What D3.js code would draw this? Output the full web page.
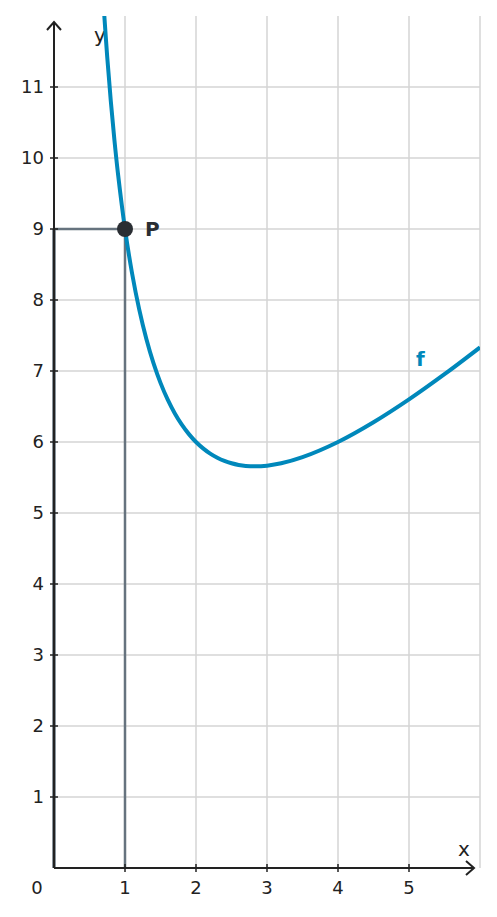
<!DOCTYPE html>
<html><head><meta charset="utf-8">
<script src="https://cdn.jsdelivr.net/npm/d3@7"></script>
<style>body{margin:0;background:#fff}text{font-family:"DejaVu Sans",sans-serif}</style>
</head><body><svg id="c" width="497" height="917"></svg>
<script>
const xTicks=[1,2,3,4,5];
const yTicks=[1,2,3,4,5,6,7,8,9,10,11];
const gridX=[1,2,3,4,5,6];
const curveX=[0.7,0.75,0.8,0.85,0.9,1,1.1,1.2,1.3,1.4,1.5,1.6,1.7,1.8,1.9,2,2.1,2.2,2.3,2.4,2.5,2.6,2.7,2.83,3,3.2,3.5,4,4.5,5,5.5,6];
const curveY=[12.129,11.417,10.8,10.262,9.789,9,8.373,7.867,7.454,7.114,6.833,6.6,6.406,6.244,6.111,6,5.910,5.836,5.778,5.733,5.7,5.677,5.663,5.657,5.667,5.7,5.786,6,6.278,6.6,6.955,7.333];
const pointP={x:1,y:9};

const svg=d3.select("#c");
const x=d3.scaleLinear().domain([0,6]).range([54,480]);
const y=d3.scaleLinear().domain([0,12]).range([868,16]);
const g=svg.append("g");
g.selectAll(".gx").data(gridX).join("line").attr("x1",d=>x(d)).attr("x2",d=>x(d)).attr("y1",y(0)).attr("y2",y(12)).attr("stroke","#d4d4d4").attr("stroke-width",1.5);
g.selectAll(".gy").data(yTicks).join("line").attr("x1",x(0)).attr("x2",x(6)).attr("y1",d=>y(d)).attr("y2",d=>y(d)).attr("stroke","#d4d4d4").attr("stroke-width",1.5);
g.append("path").attr("d",`M${x(0)},${y(pointP.y)}H${x(pointP.x)}V${y(0)}`).attr("fill","none").attr("stroke","#66737e").attr("stroke-width",2.5);
g.append("line").attr("x1",x(0)).attr("x2",x(0)).attr("y1",y(pointP.y)).attr("y2",y(0)).attr("stroke","#66737e").attr("stroke-width",3.5);
const ax="#222";
g.append("line").attr("x1",x(0)).attr("x2",474).attr("y1",y(0)).attr("y2",y(0)).attr("stroke",ax).attr("stroke-width",2);
g.append("path").attr("d",`M466,${y(0)-7}L474,${y(0)}L466,${y(0)+7}`).attr("fill","none").attr("stroke",ax).attr("stroke-width",2);
g.append("line").attr("x1",x(0)).attr("x2",x(0)).attr("y1",y(0)).attr("y2",22).attr("stroke",ax).attr("stroke-width",2);
g.append("path").attr("d",`M${x(0)-7},30L${x(0)},22L${x(0)+7},30`).attr("fill","none").attr("stroke",ax).attr("stroke-width",2);
g.selectAll(".tx").data(xTicks).join("line").attr("x1",d=>x(d)).attr("x2",d=>x(d)).attr("y1",y(0)-4).attr("y2",y(0)+4).attr("stroke",ax).attr("stroke-width",1.5);
g.selectAll(".ty").data(yTicks).join("line").attr("x1",x(0)-4).attr("x2",x(0)+4).attr("y1",d=>y(d)).attr("y2",d=>y(d)).attr("stroke",ax).attr("stroke-width",1.5);
g.selectAll(".lx").data(xTicks).join("text").attr("x",d=>x(d)).attr("y",894).attr("text-anchor","middle").attr("font-size",18).attr("fill",ax).text(d=>d);
g.selectAll(".ly").data(yTicks).join("text").attr("x",44).attr("y",d=>y(d)+6).attr("text-anchor","end").attr("font-size",18).attr("fill",ax).text(d=>d);
g.append("text").attr("x",37).attr("y",894).attr("text-anchor","middle").attr("font-size",18).attr("fill",ax).text("0");
g.append("text").attr("x",464).attr("y",856).attr("text-anchor","middle").attr("font-size",20).attr("fill",ax).text("x");
g.append("text").attr("x",100).attr("y",42).attr("text-anchor","middle").attr("font-size",20).attr("fill",ax).text("y");
svg.append("defs").append("clipPath").attr("id","cl").append("rect").attr("x",0).attr("y",16).attr("width",480).attr("height",860);
g.append("path").datum(curveX.map((d,i)=>[d,curveY[i]])).attr("clip-path","url(#cl)")
 .attr("d",d3.line().x(d=>x(d[0])).y(d=>y(d[1])).curve(d3.curveCatmullRom))
 .attr("fill","none").attr("stroke","#0088bb").attr("stroke-width",4);
g.append("circle").attr("cx",x(pointP.x)).attr("cy",y(pointP.y)).attr("r",8).attr("fill","#2a2e33");
g.append("text").attr("x",145).attr("y",236).attr("font-size",20).attr("font-weight","bold").attr("fill","#2a2e33").text("P");
g.append("text").attr("x",416).attr("y",366).attr("font-size",20).attr("font-weight","bold").attr("fill","#0088bb").text("f");
</script></body></html>
